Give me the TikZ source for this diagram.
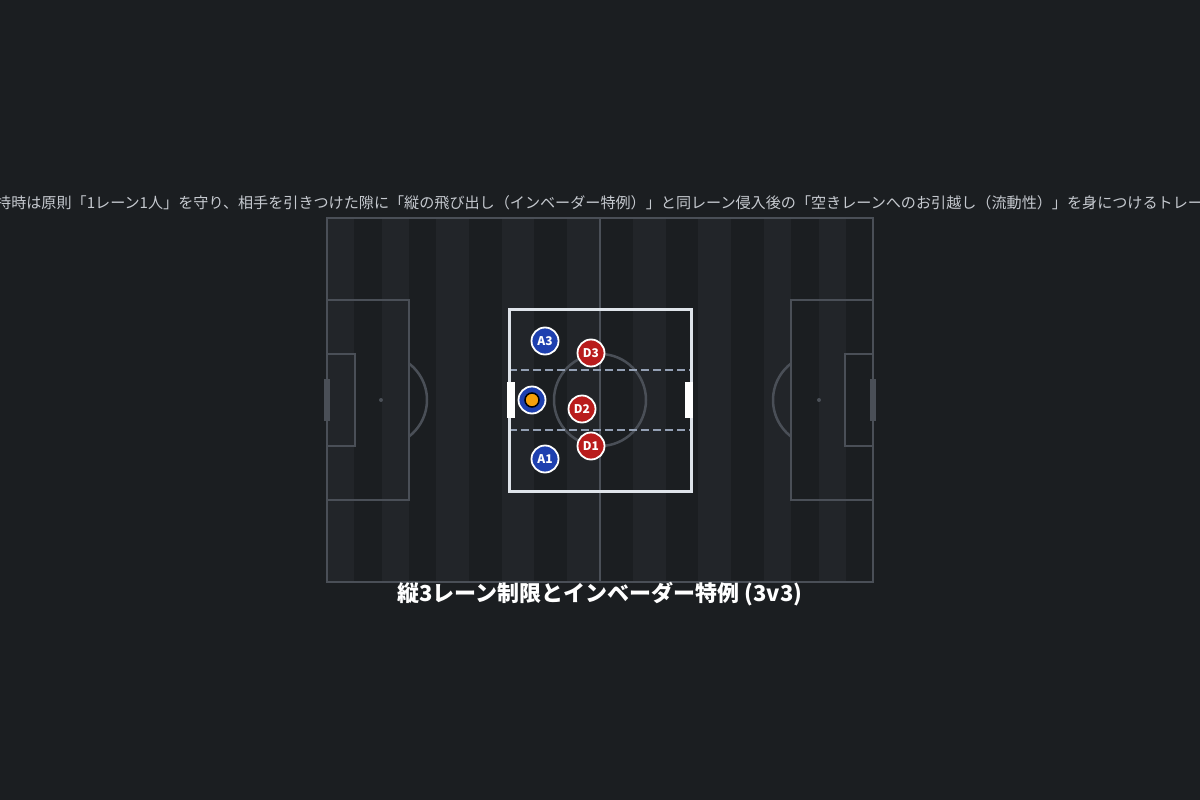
\documentclass[tikz,border=0pt]{standalone}
\usepackage{fontspec}
\setmainfont{Noto Sans CJK JP}
\usepackage{color}
\usepackage{tikz}
\usetikzlibrary{calc}
\definecolor{bgdark}{RGB}{27,30,33}
\definecolor{stripe}{RGB}{34,37,41}
\definecolor{pitchline}{RGB}{74,79,87}
\definecolor{zoneline}{RGB}{223,228,234}
\definecolor{laneline}{RGB}{148,160,180}
\definecolor{attblue}{RGB}{30,64,175}
\definecolor{defred}{RGB}{185,28,28}
\definecolor{ballorange}{RGB}{245,160,10}
\definecolor{subtext}{RGB}{197,201,207}

\begin{document}
\begin{tikzpicture}[x=1pt,y=-1pt,
    pline/.style={draw=pitchline, line width=2.5pt},
    zone/.style={draw=zoneline, line width=3pt},
    lane/.style={draw=laneline, line width=1.6pt, dash pattern=on 8pt off 4pt},
    attacker/.style={circle, fill=attblue, draw=white, line width=1.8pt, minimum size=27pt,
      inner sep=0pt, text=white, font=\bfseries\fontsize{12}{12}\selectfont},
    defender/.style={attacker, fill=defred}]
    \fill[bgdark] (0,0) rectangle (1200,800);
    \useasboundingbox (0,0) rectangle (1200,800);
    \clip (0,0) rectangle (1200,800);
    % pitch stripes
    \foreach \xa/\xb in {327/354.3, 381.7/409, 436/468.8, 501.6/534.4, 567.2/600,
      632.8/665.6, 698.4/731.2, 764/791.3, 818.7/846}
      \fill[stripe] (\xa,218) rectangle (\xb,582);
    % pitch lines
    \draw[pline] (327,218) rectangle (873,582);
    \draw[pline] (600,218) -- (600,582);
    \draw[pline] (600,400) circle (46);
    \draw[pline] (327,300) rectangle (409,500);
    \draw[pline] (327,354) rectangle (355,446);
    \draw[pline] (791,300) rectangle (873,500);
    \draw[pline] (845,354) rectangle (873,446);
    \draw[pline] (409,363.5) arc (-52.5:52.5:46);
    \draw[pline] (791,436.5) arc (127.5:232.5:46);
    \fill[pitchline] (381,400) circle (2);
    \fill[pitchline] (819,400) circle (2);
    \fill[pitchline] (324,379) rectangle (330,421);
    \fill[pitchline] (870,379) rectangle (876,421);
    % lanes
    \draw[lane] (509,370) -- (691,370);
    \draw[lane] (509,430) -- (691,430);
    % practice zone
    \draw[zone] (509,309) rectangle (691,491);
    \fill[white] (507,382) rectangle (515,418);
    \fill[white] (685,382) rectangle (693,418);
    % players
    \node[attacker] (A3) at (545,341) {A3};
    \node[attacker] (A2) at (532,400) {};
    \node[circle, fill=ballorange, draw=black, line width=1.5pt, minimum size=14pt,
      inner sep=0pt] (ball) at (A2) {};
    \node[attacker] (A1) at (545,459) {A1};
    \node[defender] (D3) at (591,353) {D3};
    \node[defender] (D2) at (582,409) {D2};
    \node[defender] (D1) at (591,446) {D1};
    % texts
    \node[anchor=west, inner sep=0pt, text=subtext, font=\fontsize{15.1}{15.1}\selectfont]
      (sub) at (-4,203) {持時は原則「1レーン1人」を守り、相手を引きつけた隙に「縦の飛び出し（インベーダー特例）」と同レーン侵入後の「空きレーンへのお引越し（流動性）」を身につけるトレー};
    \node[text=white, font=\bfseries\fontsize{22}{22}\selectfont]
      (title) at (600,594) {縦3レーン制限とインベーダー特例 (3v3)};
\end{tikzpicture}
\end{document}
